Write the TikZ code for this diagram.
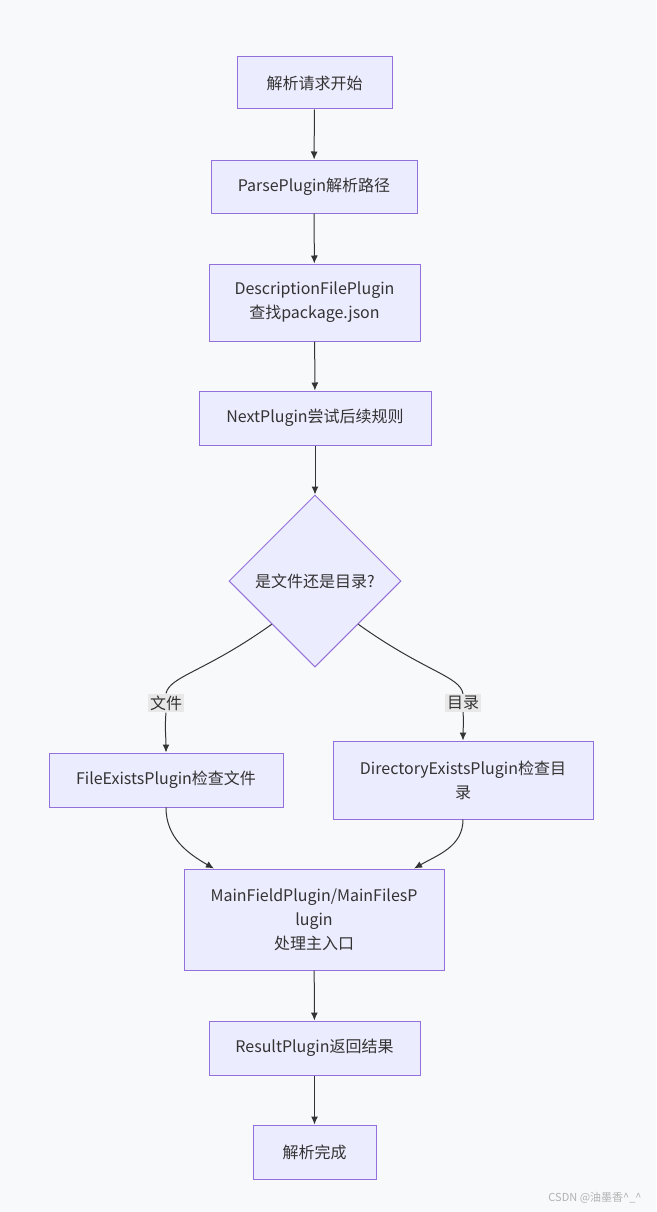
\documentclass[tikz,border=0pt]{standalone}
\usepackage{fontspec}
\setmainfont{Noto Sans CJK SC}
\usetikzlibrary{shapes.geometric,arrows.meta}
\definecolor{boxfill}{HTML}{ECECFF}
\definecolor{boxline}{HTML}{9370DB}
\definecolor{edgeline}{HTML}{333333}
\definecolor{labelfill}{HTML}{E8E8E8}
\definecolor{pagefill}{HTML}{F8F9FA}
\begin{document}
\begin{tikzpicture}[x=1pt, y=-1pt,
  every node/.style = {font=\fontsize{16}{24}\selectfont, align=center,
    text=edgeline, inner sep=0pt},
  plugbox/.style = {shape=rectangle, draw=boxline, fill=boxfill, line width=1pt},
  choice/.style = {shape=diamond, aspect=1, draw=boxline, fill=boxfill, line width=1pt},
  flow/.style = {draw=edgeline, line width=1pt, -{Latex[length=8pt,width=7pt]}},
  edgelabel/.style = {fill=labelfill, inner sep=2pt}]
  \fill[pagefill] (0,0) rectangle (656,1212);
  \useasboundingbox (0,0) rectangle (656,1212);
  % nodes
  \node [plugbox, minimum width=155, minimum height=52] (start) at (314.5,83) {解析请求开始};
  \node [plugbox, minimum width=206, minimum height=53] (parse) at (314,186.5) {ParsePlugin解析路径};
  \node [plugbox, minimum width=211, minimum height=77] (desc) at (314.5,302.5) {DescriptionFilePlugin\\查找package.json};
  \node [plugbox, minimum width=232, minimum height=54] (next) at (315,418) {NextPlugin尝试后续规则};
  \node [choice, minimum width=172, minimum height=172] (kind) at (315,581) {是文件还是目录?};
  \node [plugbox, minimum width=234, minimum height=54] (file) at (166,780) {FileExistsPlugin检查文件};
  \node [plugbox, minimum width=260, minimum height=78] (dir) at (463,780) {DirectoryExistsPlugin检查目\\录};
  \node [plugbox, minimum width=260, minimum height=101] (main) at (314,919.5) {MainFieldPlugin/MainFilesP\\lugin\\处理主入口};
  \node [plugbox, minimum width=211, minimum height=54] (result) at (314.5,1048) {ResultPlugin返回结果};
  \node [plugbox, minimum width=123, minimum height=54] (done) at (314.5,1152) {解析完成};
  \node [edgelabel] (lfile) at (166,703) {文件};
  \node [edgelabel] (ldir) at (463,703) {目录};
  % connectors
  \draw [flow] (start) -- (parse);
  \draw [flow] (parse) -- (desc);
  \draw [flow] (desc) -- (next);
  \draw [flow] (next) -- (kind);
  \draw [flow] (kind.south west) .. controls (205,672) and (170,676) .. (lfile.north)
    (lfile.south) to[out=-95,in=90] (file.north);
  \draw [flow] (kind.south east) .. controls (425,672) and (460,676) .. (ldir.north)
    (ldir.south) to[out=-85,in=90] (dir.north);
  \draw [flow] (file.south) to[out=-90,in=150] (main.153);
  \draw [flow] (dir.south) to[out=-90,in=30] (main.27);
  \draw [flow] (main) -- (result);
  \draw [flow] (result) -- (done);
  % watermark
  \node [font=\fontsize{11}{13}\selectfont, text=black!30] (mark) at (595,1198) {CSDN @油墨香\textasciicircum\_\textasciicircum};
\end{tikzpicture}
\end{document}
